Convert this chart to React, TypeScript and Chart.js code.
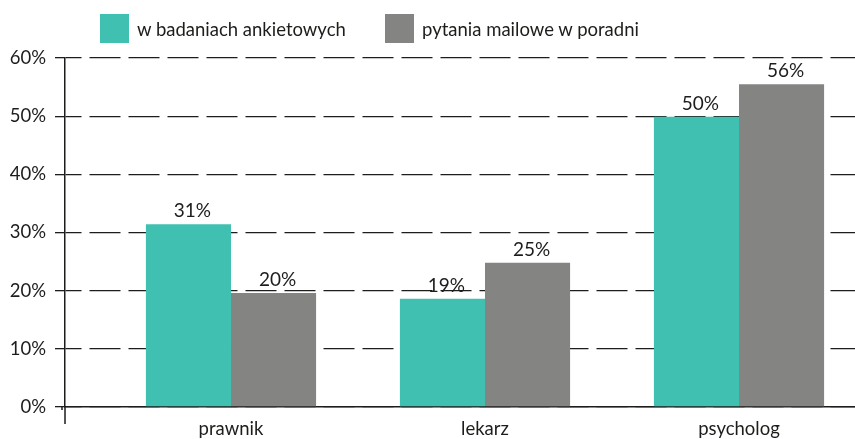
import React, { useEffect, useRef } from 'react';
import { Chart, registerables } from 'chart.js';

Chart.register(...registerables);

const categories = ['prawnik', 'lekarz', 'psycholog'];
const surveyValues = [31.4, 18.6, 49.9];
const mailValues = [19.6, 24.8, 55.5];
const seriesNames = ['w badaniach ankietowych', 'pytania mailowe w poradni'];
const yTickValues = [0, 10, 20, 30, 40, 50, 60];

const TEAL = '#40c0b0';
const GRAY = '#848483';
const INK = '#1d1d1b';
const FONT_FAMILY = 'Lato, "Liberation Sans", sans-serif';

const valueLabelsPlugin = {
  id: 'valueLabels',
  afterDatasetsDraw(chart: any) {
    const ctx = chart.ctx;
    ctx.save();
    ctx.font = `19px ${FONT_FAMILY}`;
    ctx.fillStyle = INK;
    ctx.textAlign = 'center';
    ctx.textBaseline = 'alphabetic';
    chart.data.datasets.forEach((ds: any, di: number) => {
      const meta = chart.getDatasetMeta(di);
      meta.data.forEach((el: any, i: number) => {
        const v = ds.data[i].y;
        ctx.fillText(`${Math.round(v)}%`, el.x + 4, el.y - 7);
      });
    });
    ctx.restore();
  },
};

const axisExtensionPlugin = {
  id: 'axisExtension',
  afterDraw(chart: any) {
    const { ctx, chartArea } = chart;
    ctx.save();
    ctx.strokeStyle = INK;
    ctx.lineWidth = 1.5;
    ctx.beginPath();
    ctx.moveTo(chartArea.left, chartArea.bottom);
    ctx.lineTo(chartArea.left, chartArea.bottom + 17);
    ctx.moveTo(chartArea.left - 3, chartArea.bottom);
    ctx.lineTo(chartArea.left - 3, chartArea.bottom + 3);
    ctx.stroke();
    ctx.restore();
  },
};

export default function App() {
  const canvasRef = useRef<HTMLCanvasElement | null>(null);

  useEffect(() => {
    if (!canvasRef.current) return;
    const chart = new Chart(canvasRef.current, {
      type: 'bar',
      data: {
        datasets: [
          {
            label: seriesNames[0],
            data: categories.map((_, i) => ({ x: i, y: surveyValues[i] })),
            backgroundColor: TEAL,
            borderWidth: 0,
          },
          {
            label: seriesNames[1],
            data: categories.map((_, i) => ({ x: i, y: mailValues[i] })),
            backgroundColor: GRAY,
            borderWidth: 0,
          },
        ],
      },
      options: {
        responsive: true,
        maintainAspectRatio: false,
        animation: false,
        layout: { padding: { top: 58, left: 0, right: 0, bottom: 0 } },
        datasets: { bar: { categoryPercentage: 0.67, barPercentage: 1 } },
        plugins: {
          legend: { display: false },
          tooltip: { enabled: false },
        },
        scales: {
          x: {
            type: 'linear',
            min: -0.6535,
            max: 2.4567,
            offset: false,
            afterBuildTicks: (s: any) => {
              s.ticks = categories.map((_, i) => ({ value: i }));
            },
            afterFit: (s: any) => {
              s.height = 32;
            },
            ticks: {
              callback: (v: any) => categories[v] ?? '',
              font: { family: FONT_FAMILY, size: 18.5 },
              color: INK,
              padding: 11,
              maxRotation: 0,
              autoSkip: false,
            },
            grid: { display: false, drawTicks: false },
            border: { display: true, color: INK, width: 1.5 },
          },
          y: {
            min: 0,
            max: 60,
            afterBuildTicks: (s: any) => {
              s.ticks = yTickValues.map((v) => ({ value: v }));
            },
            afterFit: (s: any) => {
              s.width = 65;
            },
            ticks: {
              callback: (v: any) => `${v}%`,
              font: { family: FONT_FAMILY, size: 18.5 },
              color: INK,
              padding: 9,
            },
            grid: {
              color: INK,
              lineWidth: 1.3,
              drawTicks: true,
              tickLength: 10,
              tickColor: INK,
              tickWidth: 1.3,
              tickBorderDash: [],
            },
            border: { display: true, color: INK, width: 1.5, dash: [31, 8], dashOffset: 15 },
          },
        },
      },
      plugins: [valueLabelsPlugin, axisExtensionPlugin],
    } as any);
    return () => chart.destroy();
  }, []);

  const legendItem = (left: number, color: string, text: string) => (
    <div
      style={{
        position: 'absolute',
        left,
        top: 14,
        height: 29,
        display: 'flex',
        alignItems: 'center',
        whiteSpace: 'nowrap',
      }}
    >
      <div style={{ width: 29, height: 29, background: color, marginRight: 8 }} />
      <span style={{ font: `18.5px ${FONT_FAMILY}`, color: INK, lineHeight: '29px', position: 'relative', top: 1 }}>
        {text}
      </span>
    </div>
  );

  return (
    <div style={{ position: 'absolute', left: 0, top: 0, width: 855, height: 439, background: '#fff' }}>
      <canvas ref={canvasRef} />
      {legendItem(100, TEAL, seriesNames[0])}
      {legendItem(385, GRAY, seriesNames[1])}
    </div>
  );
}
